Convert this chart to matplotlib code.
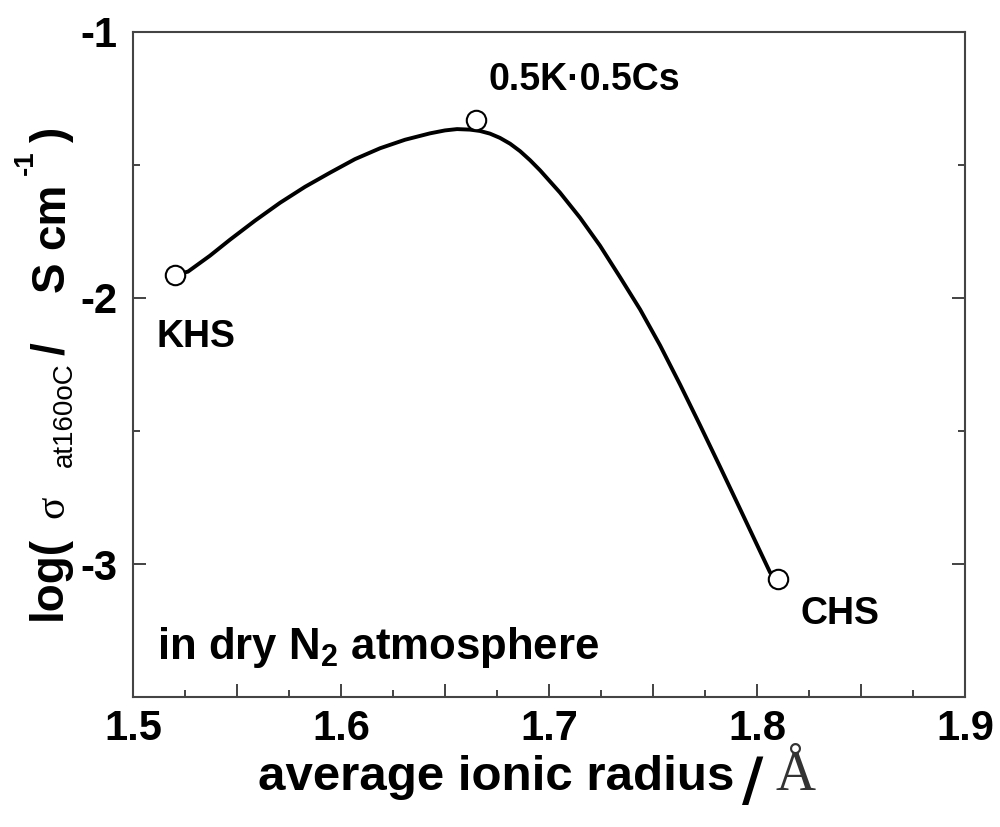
import matplotlib
matplotlib.use("Agg")
import matplotlib.pyplot as plt
from matplotlib.ticker import MultipleLocator, FuncFormatter

# measured samples
sample_x = [1.520, 1.665, 1.810]
sample_y = [-1.912, -1.330, -3.056]
sample_names = ["KHS", "0.5K\u00b70.5Cs", "CHS"]

# guide curve
curve_x = [1.5202, 1.5264, 1.5370, 1.5466, 1.5587, 1.5707, 1.5827, 1.5947,
           1.6067, 1.6188, 1.6308, 1.6428, 1.6500, 1.6558, 1.6620, 1.6668,
           1.6716, 1.6764, 1.6813, 1.6861, 1.6909, 1.6957, 1.7053, 1.7149,
           1.7245, 1.7341, 1.7438, 1.7534, 1.7630, 1.7726, 1.7822, 1.7918,
           1.8014, 1.8063, 1.8101]
curve_y = [-1.912, -1.901, -1.841, -1.781, -1.709, -1.642, -1.582, -1.529,
           -1.478, -1.437, -1.405, -1.381, -1.370, -1.365, -1.367, -1.372,
           -1.382, -1.398, -1.420, -1.448, -1.482, -1.520, -1.604, -1.698,
           -1.803, -1.921, -2.043, -2.178, -2.325, -2.478, -2.634, -2.792,
           -2.951, -3.032, -3.056]

W, H = 1000, 827
SANS = "Liberation Sans"
SERIF = "Liberation Serif"
plt.rcParams["mathtext.default"] = "regular"

fig = plt.figure(figsize=(W / 100, H / 100), dpi=100)
ax = fig.add_axes([133 / W, 1 - 697 / H, (965 - 133) / W, (697 - 32) / H])

ax.plot(curve_x, curve_y, color="black", lw=2.8, solid_joinstyle="round",
        solid_capstyle="round", zorder=2)
ax.plot(sample_x, sample_y, "o", ms=14, mfc="white", mec="black", mew=1.5, zorder=3)

ax.set_xlim(1.5, 1.9)
ax.set_ylim(-3.5, -1)

ax.xaxis.set_major_locator(MultipleLocator(0.05))
ax.xaxis.set_minor_locator(MultipleLocator(0.025))
ax.xaxis.set_major_formatter(FuncFormatter(
    lambda v, p: f"{v:.1f}" if abs(v * 10 - round(v * 10)) < 1e-6 else ""))
ax.yaxis.set_major_locator(MultipleLocator(1))
ax.yaxis.set_minor_locator(MultipleLocator(0.5))
ax.yaxis.set_major_formatter(FuncFormatter(lambda v, p: f"{v:.0f}"))

ax.tick_params(which="both", direction="in", top=False, right=True, color="#222222")
ax.tick_params(which="major", length=9.5, width=1.2)
ax.tick_params(which="minor", length=5, width=1.2)
ax.tick_params(axis="x", pad=9)
ax.tick_params(axis="y", pad=11)
for lab in ax.get_xticklabels() + ax.get_yticklabels():
    lab.set_fontfamily(SANS)
    lab.set_fontweight("bold")
    lab.set_fontsize(30)
for s in ax.spines.values():
    s.set_linewidth(1.5)
    s.set_color("#444444")

# point labels
ax.text(1.5115, -2.186, sample_names[0], family=SANS, weight="bold", fontsize=27)
ax.text(1.6707, -1.218, sample_names[1], family=SANS, weight="bold", fontsize=27)
ax.text(1.8207, -3.225, sample_names[2], family=SANS, weight="bold", fontsize=27)
ax.text(1.5115, -3.357, "in dry N$_2$ atmosphere", family=SANS, weight="bold",
        fontsize=31.5)


def ptext(px, py, s, **kw):
    return fig.text(px / W, 1 - py / H, s, **kw)


# x label
ptext(258, 790, "average ionic radius", family=SANS, weight="bold", fontsize=35.5)
ptext(742, 800, "/", family="DejaVu Sans", weight="bold", fontsize=42)
ptext(776, 790, "\u00c5", family=SERIF, fontsize=40, color="#333333")

# y label
rot = dict(rotation=90, rotation_mode="anchor", ha="left", va="baseline")
ptext(61, 620, "log(", family=SANS, weight="bold", fontsize=33, **rot)
ptext(63, 518, "\u03c3", family=SERIF, fontsize=30, **rot)
ptext(72, 467, "at160oC", family=SANS, fontsize=20, **rot)
ptext(64, 355, "/", family=SANS, weight="bold", fontsize=33, **rot)
ptext(64, 292, "S", family=SANS, weight="bold", fontsize=33, **rot)
ptext(64, 249, "cm", family=SANS, weight="bold", fontsize=33, **rot)
ptext(33, 175, "-1", family=SANS, weight="bold", fontsize=20, **rot)
ptext(64, 142, ")", family=SANS, weight="bold", fontsize=33, **rot)

fig.savefig("out.png", dpi=100)
